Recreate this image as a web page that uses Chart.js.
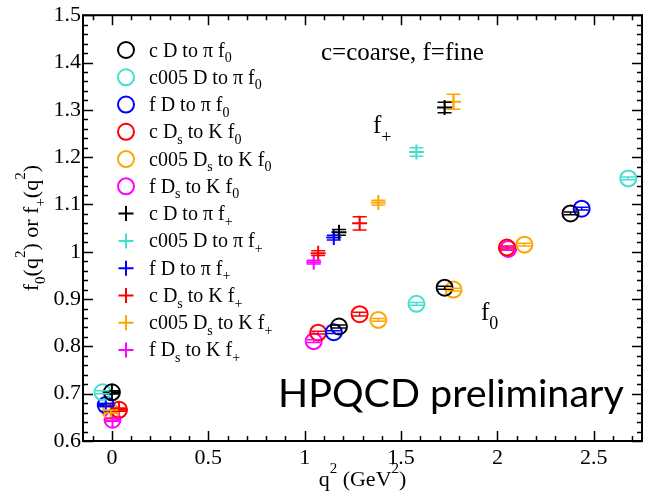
<!DOCTYPE html>
<html><head><meta charset="utf-8">
<script src="https://cdn.jsdelivr.net/npm/chart.js@4.4.1/dist/chart.umd.min.js"></script>
<style>html,body{margin:0;padding:0;background:#fff}canvas{display:block}</style>
</head><body>
<canvas id="c" width="652" height="499"></canvas>
<script>
// ---------------- data ----------------
const seriesNames  = ['c D to π', 'c005 D to π', 'f D to π', 'c D_{s} to K', 'c005 D_{s} to K', 'f D_{s} to K'];
const seriesColors = ['#000000', '#40e0d0', '#0000ff', '#ff0000', '#ffa500', '#ff00ff'];

const q2_cDpi     = [0.000, 1.178, 1.726, 2.379];
const f0_cDpi     = [0.703, 0.842, 0.924, 1.081];
const f0err_cDpi  = [0.003, 0.003, 0.003, 0.003];
const fp_cDpi     = [0.703, 1.041, 1.305];
const fperr_cDpi  = [0.003, 0.006, 0.011];

const q2_c005Dpi    = [-0.049, 1.580, 2.679];
const f0_c005Dpi    = [0.703, 0.890, 1.155];
const f0err_c005Dpi = [0.003, 0.003, 0.003];
const fp_c005Dpi    = [null, 1.211];
const fperr_c005Dpi = [null, 0.009];

const q2_fDpi     = [-0.032, 1.151, 2.437];
const f0_fDpi     = [0.676, 0.830, 1.091];
const f0err_fDpi  = [0.003, 0.003, 0.003];
const fp_fDpi     = [0.676, 1.030];
const fperr_fDpi  = [0.003, 0.005];

const q2_cDsK     = [0.037, 1.070, 1.285, 2.049];
const f0_cDsK     = [0.666, 0.829, 0.868, 1.009];
const f0err_cDsK  = [0.003, 0.003, 0.004, 0.003];
const fp_cDsK     = [0.666, 0.997, 1.060];
const fperr_cDsK  = [0.003, 0.005, 0.014];

const q2_c005DsK    = [-0.006, 1.382, 1.772, 2.140];
const f0_c005DsK    = [0.662, 0.856, 0.920, 1.015];
const f0err_c005DsK = [0.003, 0.003, 0.003, 0.003];
const fp_c005DsK    = [0.662, 1.104, 1.317];
const fperr_c005DsK = [0.003, 0.005, 0.016];

const q2_fDsK     = [0.003, 1.047, 2.056];
const f0_fDsK     = [0.645, 0.811, 1.006];
const f0err_fDsK  = [0.003, 0.003, 0.003];
const fp_fDsK     = [0.645, 0.978];
const fperr_fDsK  = [0.003, 0.004];

const xTicks = [0, 0.5, 1, 1.5, 2, 2.5];
const yTicks = [0.6, 0.7, 0.8, 0.9, 1, 1.1, 1.2, 1.3, 1.4, 1.5];

const allQ2    = [q2_cDpi, q2_c005Dpi, q2_fDpi, q2_cDsK, q2_c005DsK, q2_fDsK];
const allF0    = [f0_cDpi, f0_c005Dpi, f0_fDpi, f0_cDsK, f0_c005DsK, f0_fDsK];
const allF0err = [f0err_cDpi, f0err_c005Dpi, f0err_fDpi, f0err_cDsK, f0err_c005DsK, f0err_fDsK];
const allFp    = [fp_cDpi, fp_c005Dpi, fp_fDpi, fp_cDsK, fp_c005DsK, fp_fDsK];
const allFperr = [fperr_cDpi, fperr_c005Dpi, fperr_fDpi, fperr_cDsK, fperr_c005DsK, fperr_fDsK];

// ---------------- helpers ----------------
const SERIF = '"Liberation Serif", "Times New Roman", serif';
Chart.defaults.font.family = SERIF;
function parseRich(s){
  const out=[]; const re=/([_^])\{([^}]*)\}/g; let last=0,m;
  while((m=re.exec(s))){ if(m.index>last) out.push({t:s.slice(last,m.index),m:'n'}); out.push({t:m[2],m:m[1]==='_'?'sub':'sup'}); last=re.lastIndex; }
  if(last<s.length) out.push({t:s.slice(last),m:'n'}); return out;
}
function segFont(seg,size,fam){ const sz = seg.m==='n'?size:Math.round(size*0.7); return sz+'px '+fam; }
function richWidth(ctx,s,size,fam){ let w=0; for(const seg of parseRich(s)){ ctx.font=segFont(seg,size,fam); w+=ctx.measureText(seg.t).width; } return w; }
function drawRich(ctx,x,y,s,size,fam,align,subShift){
  const segs=parseRich(s); let cx=x; const ss = subShift||0.3;
  if(align==='center') cx = x - richWidth(ctx,s,size,fam)/2;
  ctx.textBaseline='alphabetic'; ctx.textAlign='left';
  for(const seg of segs){
    ctx.font=segFont(seg,size,fam);
    let dy=0; if(seg.m==='sub') dy=size*ss; if(seg.m==='sup') dy=-size*0.6;
    ctx.fillText(seg.t,cx,y+dy); cx+=ctx.measureText(seg.t).width;
  }
}

// ---------------- datasets ----------------
const datasets=[];
for(let i=0;i<6;i++){
  datasets.push({label:seriesNames[i]+' f_{0}', kind:'f0', si:i,
    data: allQ2[i].map((x,j)=>({x:x,y:allF0[i][j]})),
    pointStyle:'circle', pointRadius:8, pointBorderWidth:2,
    borderColor:seriesColors[i], backgroundColor:'rgba(0,0,0,0)', showLine:false});
}
for(let i=0;i<6;i++){
  const pts=[]; allFp[i].forEach((v,j)=>{ if(v!==null) pts.push({x:allQ2[i][j],y:v}); });
  datasets.push({label:seriesNames[i]+' f_{+}', kind:'fp', si:i,
    data: pts, pointStyle:'cross', pointRadius:7.5, pointBorderWidth:2,
    borderColor:seriesColors[i], backgroundColor:seriesColors[i], showLine:false});
}

// ---------------- plugins ----------------
const errorBars={ id:'errorBars', afterDatasetsDraw(chart){
  const {ctx,scales:{x,y}}=chart; ctx.save(); ctx.lineWidth=1.5;
  for(let i=0;i<6;i++){
    ctx.strokeStyle=seriesColors[i];
    const draw=(vals,errs)=>{ vals.forEach((v,j)=>{ if(v===null||errs[j]==null) return;
      const px=x.getPixelForValue(allQ2[i][j]); const y1=y.getPixelForValue(v-errs[j]); const y2=y.getPixelForValue(v+errs[j]);
      ctx.beginPath(); ctx.moveTo(px,y1); ctx.lineTo(px,y2);
      ctx.moveTo(px-7,y1); ctx.lineTo(px+7,y1); ctx.moveTo(px-7,y2); ctx.lineTo(px+7,y2); ctx.stroke(); }); };
    draw(allF0[i],allF0err[i]); draw(allFp[i],allFperr[i]);
  }
  ctx.restore();
}};

const frame={ id:'frame', afterDraw(chart){
  const {ctx,chartArea:a,scales:{x,y}}=chart; ctx.save();
  ctx.strokeStyle='#000'; ctx.lineWidth=2;
  ctx.strokeRect(a.left,a.top,a.right-a.left,a.bottom-a.top);
  ctx.lineWidth=1.5; ctx.beginPath();
  for(let k=-1;k<=27;k++){ const v=k/10; const major=(k%5===0); const L=major?10:5; const px=Math.round(x.getPixelForValue(v))+0.5;
    ctx.moveTo(px,a.bottom); ctx.lineTo(px,a.bottom-L); ctx.moveTo(px,a.top); ctx.lineTo(px,a.top+L); }
  for(let k=30;k<=75;k++){ const v=k/50; const major=(k%5===0); const L=major?10:5; const py=Math.round(y.getPixelForValue(v))+0.5;
    ctx.moveTo(a.left,py); ctx.lineTo(a.left+L,py); ctx.moveTo(a.right,py); ctx.lineTo(a.right-L,py); }
  ctx.stroke();

  // legend
  ctx.fillStyle='#000';
  datasets.forEach((ds,i)=>{
    const ry=50+27.27*i; const mx=126;
    ctx.strokeStyle=ds.borderColor; ctx.lineWidth=2; ctx.beginPath();
    if(ds.kind==='f0'){ ctx.arc(mx,ry,8,0,Math.PI*2); }
    else { ctx.moveTo(mx-7.5,ry); ctx.lineTo(mx+7.5,ry); ctx.moveTo(mx,ry-7.5); ctx.lineTo(mx,ry+7.5); }
    ctx.stroke();
    ctx.fillStyle='#000';
    drawRich(ctx,149,ry+6.5,ds.label,20,SERIF,'left',0.28);
  });

  // annotations
  drawRich(ctx,321,60,'c=coarse, f=fine',25,SERIF,'left');
  drawRich(ctx,373,133,'f_{+}',25,SERIF,'left',0.4);
  drawRich(ctx,481,320,'f_{0}',25,SERIF,'left',0.36);
  ctx.font='39.5px Lato'; ctx.textAlign='left'; ctx.textBaseline='alphabetic';
  ctx.fillText('HPQCD preliminary',278,407);

  // axis titles
  drawRich(ctx,(a.left+a.right)/2,486,'q^{2} (GeV^{2})',22,SERIF,'center');
  ctx.save(); ctx.translate(38,(a.top+a.bottom)/2); ctx.rotate(-Math.PI/2);
  drawRich(ctx,0,0,'f_{0}(q^{2}) or f_{+}(q^{2})',22,SERIF,'center');
  ctx.restore();
  ctx.restore();
}};

new Chart(document.getElementById('c'),{
  type:'scatter',
  data:{datasets},
  options:{
    responsive:false, animation:false, events:[],
    layout:{padding:{top:13,right:5,bottom:0,left:0}},
    plugins:{legend:{display:false},tooltip:{enabled:false}},
    scales:{
      x:{type:'linear',min:-0.15,max:2.75,
        grid:{display:false,drawTicks:false},border:{display:false},
        afterBuildTicks:(s)=>{s.ticks=xTicks.map(v=>({value:v}));},
        afterFit:(s)=>{s.height=58;},
        ticks:{padding:4,color:'#000',font:{family:SERIF,size:22},maxRotation:0,
          callback:(v)=>String(v)}},
      y:{type:'linear',min:0.6,max:1.5,
        grid:{display:false,drawTicks:false},border:{display:false},
        afterBuildTicks:(s)=>{s.ticks=yTicks.map(v=>({value:v}));},
        afterFit:(s)=>{s.width=83;},
        ticks:{padding:2,color:'#000',font:{family:SERIF,size:22},
          callback:(v)=>String(v)}}
    }
  },
  plugins:[errorBars,frame]
});
</script>
</body></html>
